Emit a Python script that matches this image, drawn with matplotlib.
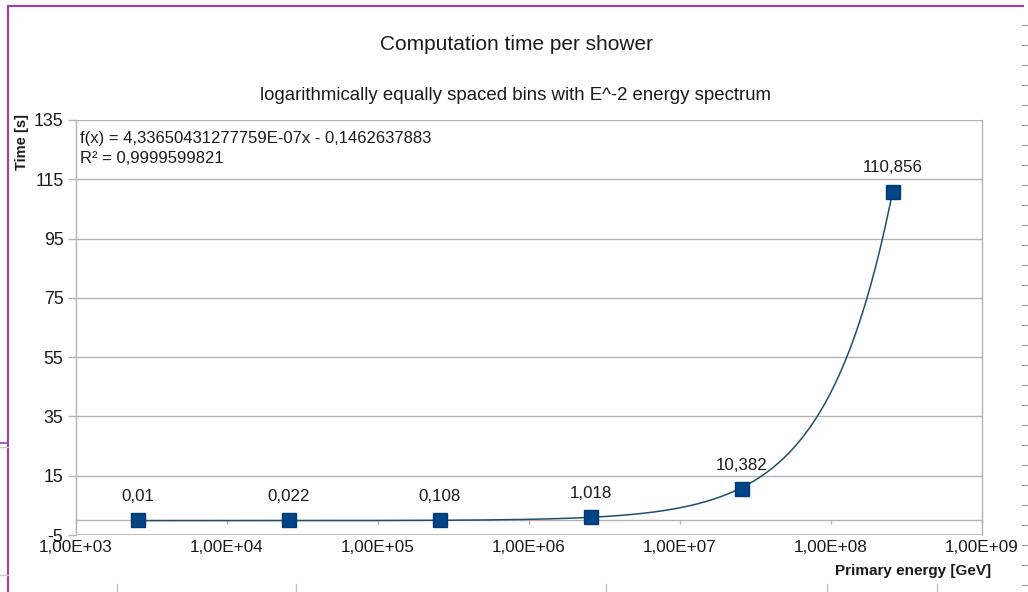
import numpy as np
import matplotlib
matplotlib.use("Agg")
import matplotlib.pyplot as plt
from matplotlib.lines import Line2D
from matplotlib.ticker import FixedLocator, FixedFormatter, NullLocator

plt.rcParams['font.family'] = ['Liberation Sans', 'DejaVu Sans']

# Mean energies of the logarithmic bins (E^-2 spectrum) and computation times
energy = [2558.4, 25584.0, 255841.0, 2558410.0, 25584100.0, 255841000.0]
time_s = [0.01, 0.022, 0.108, 1.018, 10.382, 110.856]
value_labels = ["0,01", "0,022", "0,108", "1,018", "10,382", "110,856"]

# Linear regression f(x) = a*x + b
fit_a = 4.33650431277759e-07
fit_b = -0.1462637883
fit_text = "f(x) = 4,33650431277759E-07x - 0,1462637883\nR² = 0,9999599821"

x_ticks = [1e3, 1e4, 1e5, 1e6, 1e7, 1e8, 1e9]
x_tick_labels = ["1,00E+03", "1,00E+04", "1,00E+05", "1,00E+06",
                 "1,00E+07", "1,00E+08", "1,00E+09"]
y_ticks = [-5, 15, 35, 55, 75, 95, 115, 135]

grid_c = "#b3b3b3"
series_c = "#004586"
text_c = "#1a1a1a"

fig = plt.figure(figsize=(10.28, 5.92), dpi=100)
ax = fig.add_axes([76 / 1028, 1 - 535 / 592, 906 / 1028, 415 / 592])

ax.set_xscale('log')
ax.set_xlim(1e3, 1e9)
ax.set_ylim(-5, 135)

ax.xaxis.set_major_locator(FixedLocator(x_ticks))
ax.xaxis.set_major_formatter(FixedFormatter(x_tick_labels))
ax.xaxis.set_minor_locator(NullLocator())
ax.set_yticks(y_ticks)
ax.set_yticklabels([str(v) for v in y_ticks])

ax.yaxis.grid(True, color=grid_c, lw=1)
ax.set_axisbelow(True)

for side in ['left', 'right', 'top', 'bottom']:
    ax.spines[side].set_color(grid_c)
    ax.spines[side].set_linewidth(1)
ax.spines['top'].set_visible(False)
# x axis crosses the y axis at zero
ax.spines['bottom'].set_position(('data', 0))
ax.axhline(-5, color=grid_c, lw=1.2, zorder=1)

ax.tick_params(axis='x', direction='out', length=3, width=1, color=grid_c,
               pad=11, labelsize=12.3, labelcolor=text_c)
ax.tick_params(axis='y', direction='out', length=6, width=1, color=grid_c,
               pad=3, labelsize=12.8, labelcolor=text_c)

# trend line over the data range
xs = np.logspace(np.log10(energy[0]), np.log10(energy[-1]), 300)
ax.plot(xs, fit_a * xs + fit_b, color="#1c4f6e", lw=1.1, zorder=3)

ax.plot(energy, time_s, linestyle='none', marker='s', markersize=9.5,
        color=series_c, markeredgecolor="#003a70", zorder=4)

for x, y, lab in zip(energy, time_s, value_labels):
    ax.annotate(lab, (x, y), xytext=(0, 17), textcoords='offset points',
                ha='center', va='center', fontsize=12.2, color=text_c)

ax.text(80 / 1028, 1 - 131 / 592, fit_text, transform=fig.transFigure,
        ha='left', va='top', fontsize=12, color=text_c, linespacing=1.4)

fig.text(516 / 1028, 1 - 45 / 592, "Computation time per shower",
         ha='center', va='center', fontsize=15, color=text_c)
fig.text(516 / 1028, 1 - 95 / 592,
         "logarithmically equally spaced bins with E^-2 energy spectrum",
         ha='center', va='center', fontsize=13.4, color=text_c)
fig.text(22 / 1028, 1 - 142 / 592, "Time [s]", rotation=90, ha='center',
         va='center', fontsize=10.5, fontweight='bold', color=text_c)
fig.text(913 / 1028, 1 - 571 / 592, "Primary energy [GeV]", ha='center',
         va='center', fontsize=11, fontweight='bold', color=text_c)

# page frame around the chart object
purple = "#a23cb4"
W, H = 1028, 592
def fline(xp, yp, **kw):
    fig.add_artist(Line2D([p / W for p in xp], [1 - p / H for p in yp],
                          transform=fig.transFigure, **kw))

fline([8, 8], [6, 592], color=purple, lw=1.5)
fline([8, 1023], [6, 6], color=purple, lw=1.5)
fline([0, 8], [443, 443], color=purple, lw=1.2)
fline([0, 8], [447, 447], color="#c8c8c8", lw=1)
fline([0, 8], [575, 575], color="#c8c8c8", lw=1)
for yy in range(25, 592, 20):
    fline([1022, 1028], [yy, yy], color="#9a9a9a", lw=0.8)
for xx in [117, 296, 606, 827, 937]:
    fline([xx, xx], [584, 592], color="#bdbdbd", lw=1)

fig.savefig("out.png", dpi=100)
